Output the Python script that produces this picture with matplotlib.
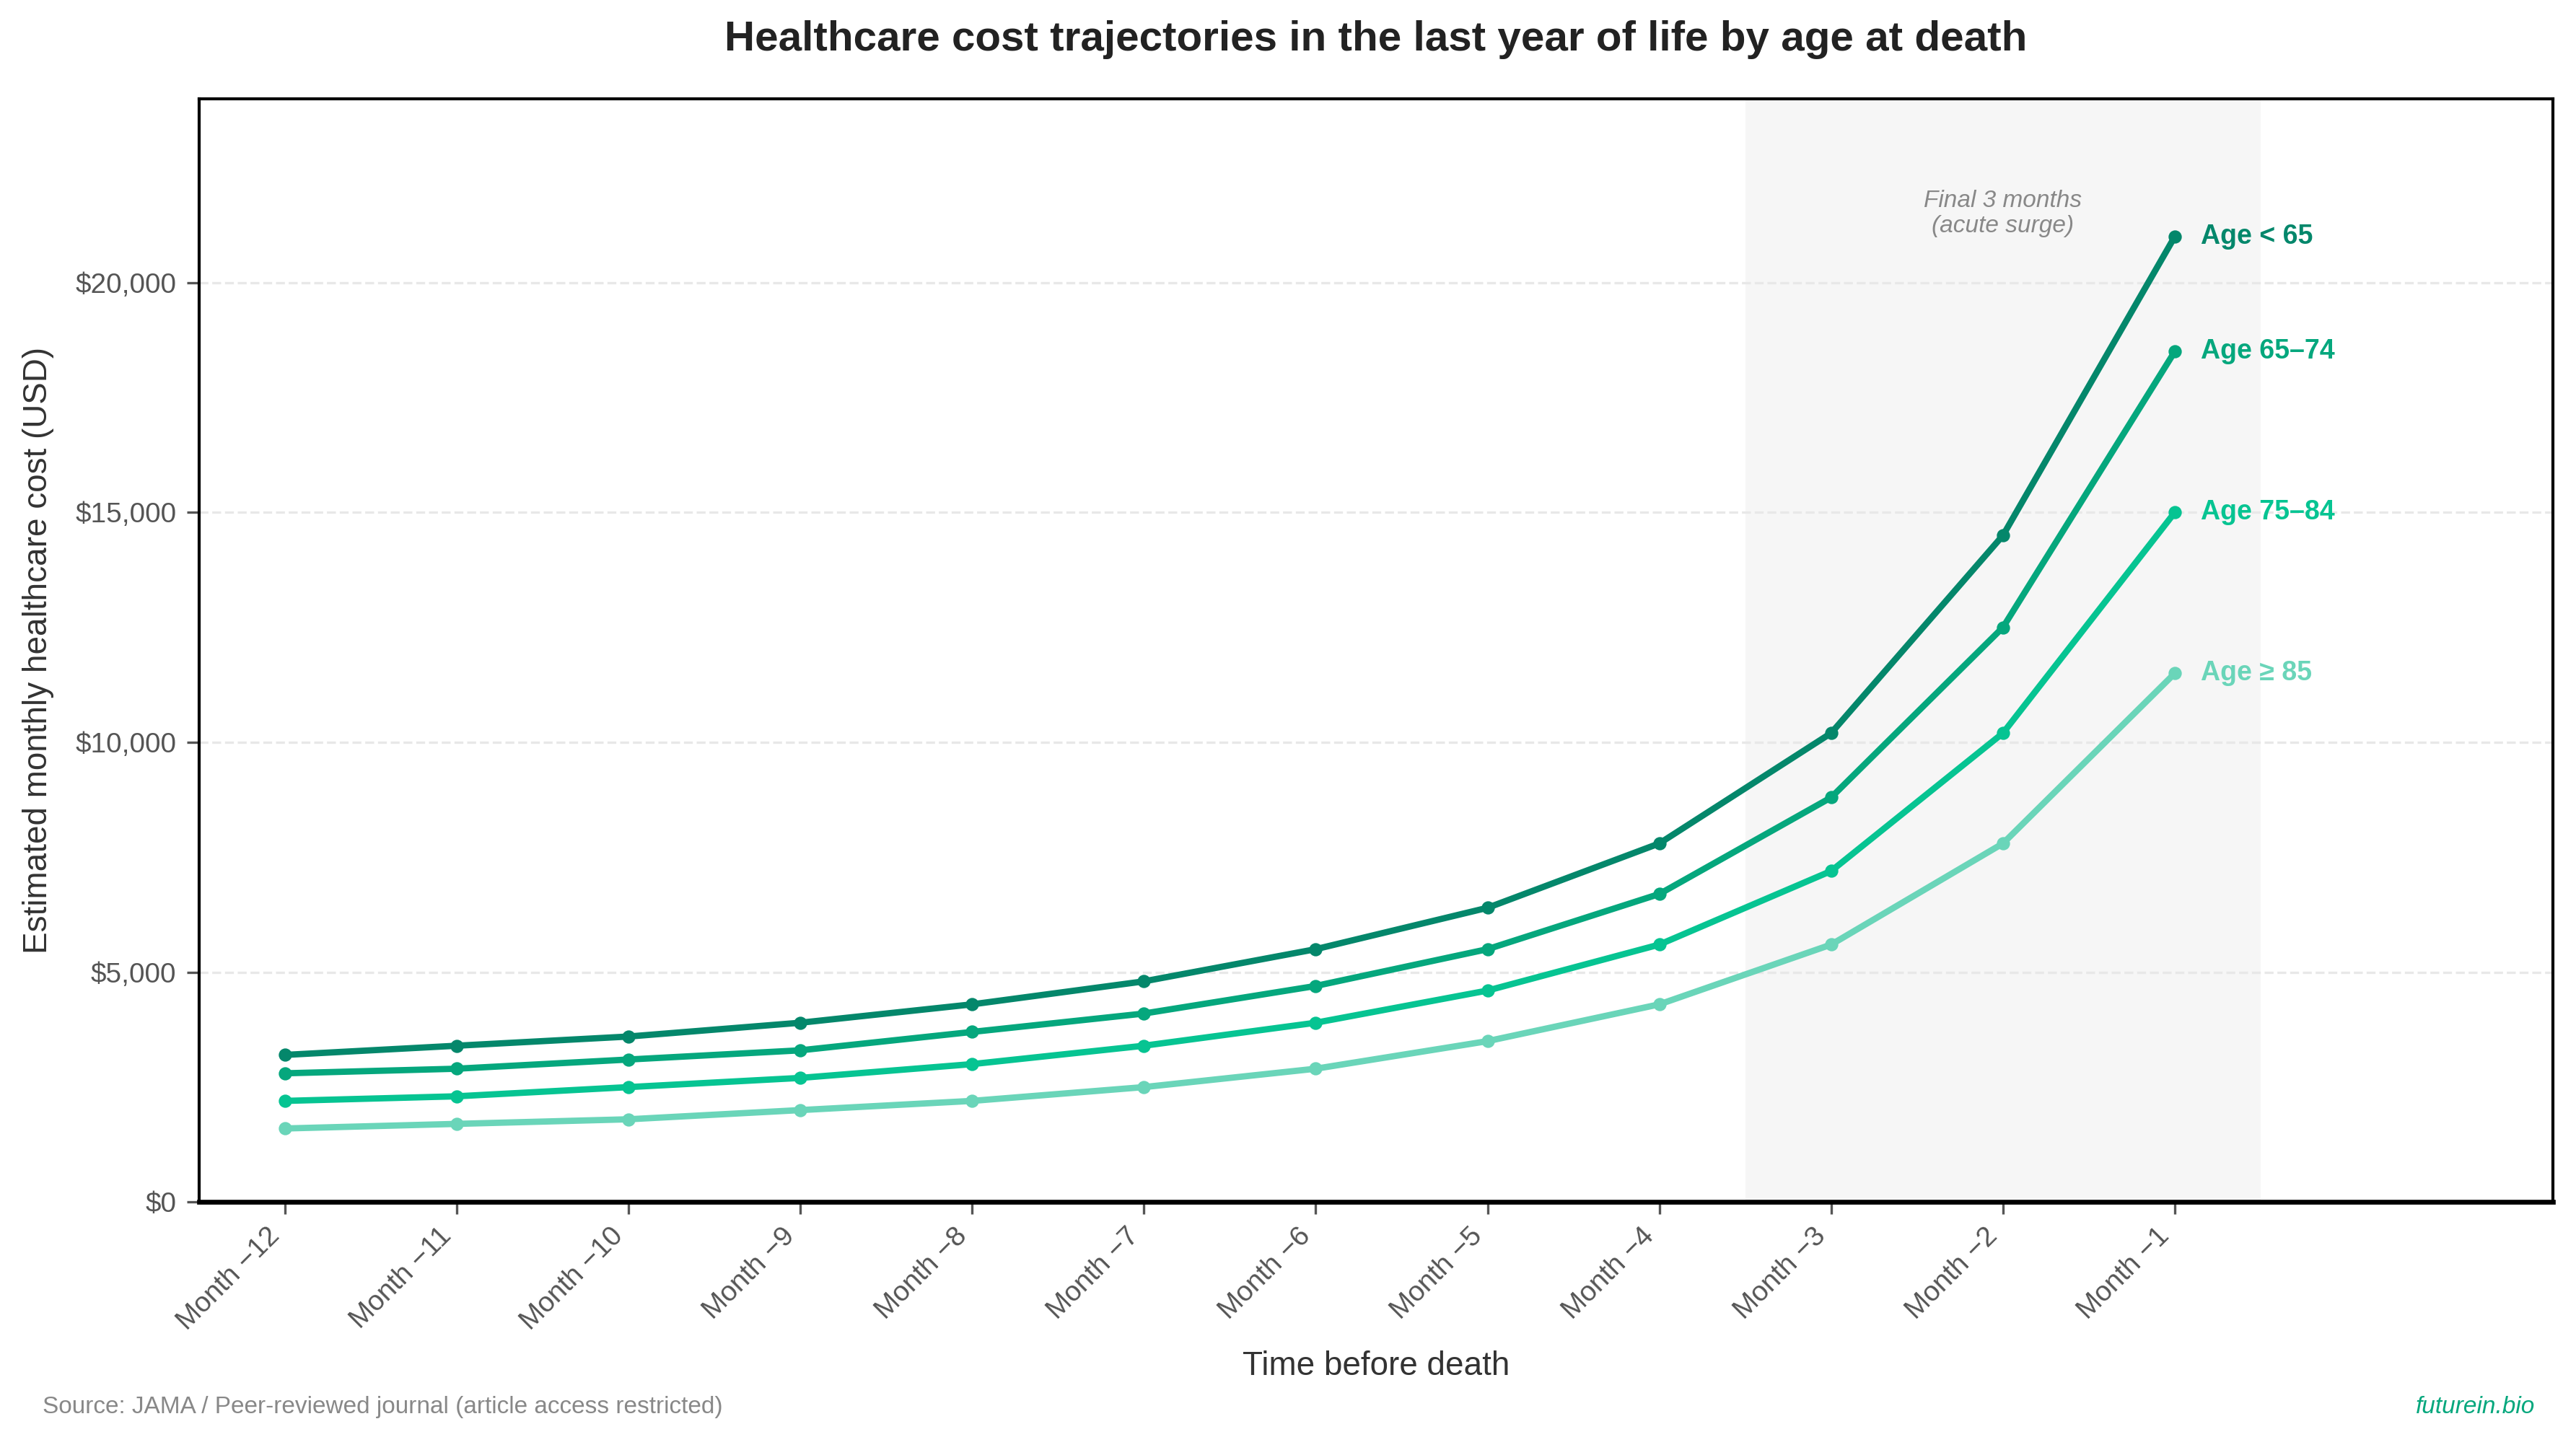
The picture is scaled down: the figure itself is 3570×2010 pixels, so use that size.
import numpy as np
import matplotlib
matplotlib.use("Agg")
import matplotlib.pyplot as plt
from matplotlib.ticker import FuncFormatter

plt.rcParams['font.family'] = ['Liberation Sans', 'DejaVu Sans']

months = ["Month \u221212", "Month \u221211", "Month \u221210", "Month \u22129", "Month \u22128",
          "Month \u22127", "Month \u22126", "Month \u22125", "Month \u22124", "Month \u22123",
          "Month \u22122", "Month \u22121"]
groups = ["Age < 65", "Age 65\u201374", "Age 75\u201384", "Age \u2265 85"]
age_lt65 = [3200, 3400, 3600, 3900, 4300, 4800, 5500, 6400, 7800, 10200, 14500, 21000]
age_65_74 = [2800, 2900, 3100, 3300, 3700, 4100, 4700, 5500, 6700, 8800, 12500, 18500]
age_75_84 = [2200, 2300, 2500, 2700, 3000, 3400, 3900, 4600, 5600, 7200, 10200, 15000]
age_85plus = [1600, 1700, 1800, 2000, 2200, 2500, 2900, 3500, 4300, 5600, 7800, 11500]
colors = ["#04876b", "#05a77d", "#06c492", "#6ad5b9"]

series = [age_lt65, age_65_74, age_75_84, age_85plus]
x = np.arange(len(months))

fig, ax = plt.subplots(figsize=(11.9, 6.7), dpi=300)
fig.subplots_adjust(left=0.0772, right=0.991, top=0.932, bottom=0.171)

# shaded final months
ax.axvspan(8.5, 11.5, color="#f0f0f0", alpha=0.6, lw=0, zorder=0)
ax.text(10, 21500, "Final 3 months\n(acute surge)", ha="center", va="center",
        fontsize=8, style="italic", color="#888888", linespacing=1.15)

for vals, name, c in zip(series, groups, colors):
    ax.plot(x, vals, color=c, lw=2.1, marker="o", markersize=3.4, zorder=3)
    ax.text(x[-1] + 0.15, vals[-1], name, color=c, fontsize=9, fontweight="bold",
            va="center", ha="left")

ax.set_xlim(-0.5, 13.2)
ax.set_ylim(0, 24000)
ax.set_yticks([0, 5000, 10000, 15000, 20000])
ax.yaxis.set_major_formatter(FuncFormatter(lambda v, p: "${:,.0f}".format(v)))
ax.set_xticks(x)
ax.set_xticklabels(months, rotation=45, ha="right")
ax.tick_params(axis="both", colors="#555555", labelsize=9.3, length=4, width=0.8)
ax.tick_params(axis="x", pad=3)
ax.grid(axis="y", ls="--", color="#e8e8e8", lw=0.8, zorder=0)
ax.set_axisbelow(True)
for s in ax.spines.values():
    s.set_color("black")
    s.set_linewidth(1.0)
ax.spines["bottom"].set_linewidth(1.6)

ax.set_xlabel("Time before death", fontsize=11, color="#333333", labelpad=5)
ax.set_ylabel("Estimated monthly healthcare cost (USD)", fontsize=11, color="#333333",
              labelpad=7)
ax.set_title("Healthcare cost trajectories in the last year of life by age at death",
             fontsize=14, fontweight="bold", color="#222222", pad=16)

fig.text(0.0166, 0.022, "Source: JAMA / Peer-reviewed journal (article access restricted)",
         fontsize=8, color="#888888", ha="left", va="bottom")
fig.text(0.984, 0.022, "futurein.bio", fontsize=8, color="#05a77d", style="italic",
         ha="right", va="bottom")

fig.savefig("out.png", dpi=300)
